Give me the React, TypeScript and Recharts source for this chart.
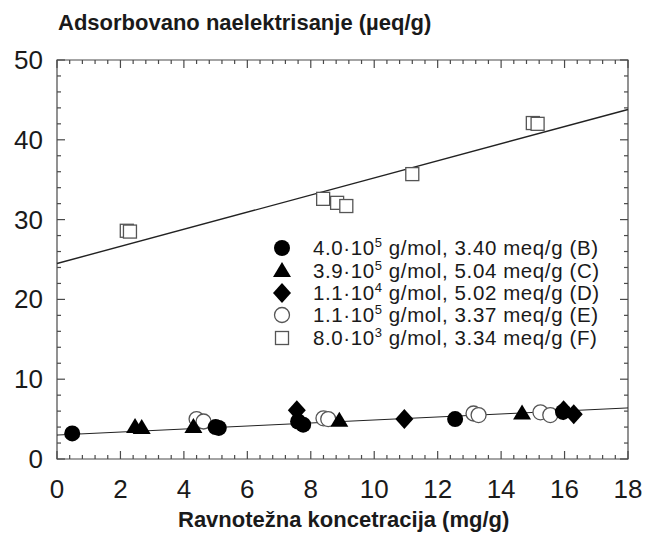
import React from 'react'
import { ComposedChart, Line, Scatter, XAxis, YAxis, ReferenceArea } from 'recharts'

// Adsorbed charge vs equilibrium concentration
const seriesB = [
  { x: 0.48, y: 3.2 }, { x: 5.0, y: 4.0 }, { x: 5.1, y: 3.9 }, { x: 7.6, y: 4.7 },
  { x: 7.76, y: 4.3 }, { x: 12.55, y: 5.0 }, { x: 15.95, y: 5.9 },
]
const seriesC = [
  { x: 2.46, y: 4.0 }, { x: 2.67, y: 3.9 }, { x: 4.3, y: 4.0 }, { x: 8.9, y: 4.8 }, { x: 14.66, y: 5.7 },
]
const seriesD = [
  { x: 7.56, y: 6.1 }, { x: 10.95, y: 5.0 }, { x: 15.97, y: 6.1 }, { x: 16.29, y: 5.6 },
]
const seriesE = [
  { x: 4.4, y: 5.0 }, { x: 4.62, y: 4.7 }, { x: 8.4, y: 5.1 }, { x: 8.55, y: 5.0 },
  { x: 13.13, y: 5.7 }, { x: 13.29, y: 5.5 }, { x: 15.24, y: 5.85 }, { x: 15.55, y: 5.5 },
]
const seriesF = [
  { x: 2.2, y: 28.6 }, { x: 2.3, y: 28.5 }, { x: 8.39, y: 32.6 }, { x: 8.83, y: 32.1 },
  { x: 9.12, y: 31.7 }, { x: 11.2, y: 35.7 }, { x: 15.0, y: 42.1 }, { x: 15.15, y: 42.0 },
]
// fitted lines (end points)
const fitLow = [{ x: 0, y: 3.0 }, { x: 18, y: 6.4 }]
const fitHigh = [{ x: 0, y: 24.5 }, { x: 18, y: 43.8 }]

const xMajor = [0, 2, 4, 6, 8, 10, 12, 14, 16, 18]
const yMajor = [0, 10, 20, 30, 40, 50]
const xMinor = Array.from({ length: 46 }, (_, i) => +(i * 0.4).toFixed(1))
const yMinor = Array.from({ length: 26 }, (_, i) => i * 2)

const legendItems = [
  { key: 'B', mw: '4.0·10', exp: '5', rest: ' g/mol, 3.40 meq/g (B)' },
  { key: 'C', mw: '3.9·10', exp: '5', rest: ' g/mol, 5.04 meq/g (C)' },
  { key: 'D', mw: '1.1·10', exp: '4', rest: ' g/mol, 5.02 meq/g (D)' },
  { key: 'E', mw: '1.1·10', exp: '5', rest: ' g/mol, 3.37 meq/g (E)' },
  { key: 'F', mw: '8.0·10', exp: '3', rest: ' g/mol, 3.34 meq/g (F)' },
]

const FONT = '"Liberation Sans", Arial, sans-serif'
const INK = '#1a1a1a'
const FRAME = '#4a4a4a'
const X_MIN = 0, X_MAX = 18, Y_MIN = 0, Y_MAX = 50

// tick positions on the four sides of the frame
const bottomTicks = xMinor.map((v) => ({ x: v, y: Y_MIN, major: xMajor.includes(v) }))
const topTicks = xMinor.map((v) => ({ x: v, y: Y_MAX, major: xMajor.includes(v) }))
const leftTicks = yMinor.map((v) => ({ x: X_MIN, y: v, major: yMajor.includes(v) }))
const rightTicks = yMinor.map((v) => ({ x: X_MAX, y: v, major: yMajor.includes(v) }))

const Marker = ({ kind, cx, cy }: { kind: string; cx: number; cy: number }) => {
  switch (kind) {
    case 'B':
      return <circle cx={cx} cy={cy} r={8} fill="#000" />
    case 'C':
      return <polygon points={`${cx},${cy - 9} ${cx + 9},${cy + 6} ${cx - 9},${cy + 6}`} fill="#000" />
    case 'D':
      return <polygon points={`${cx},${cy - 10} ${cx + 9},${cy} ${cx},${cy + 10} ${cx - 9},${cy}`} fill="#000" />
    case 'E':
      return <circle cx={cx} cy={cy} r={7.5} fill="#fff" stroke="#555" strokeWidth={1.3} />
    default:
      return <rect x={cx - 6.5} y={cy - 6.5} width={13} height={13} fill="#fff" stroke="#555" strokeWidth={1.3} />
  }
}

const shape = (kind: string) => (props: any) => <Marker kind={kind} cx={props.cx} cy={props.cy} />

// inward tick drawn as a thin filled rect; dx/dy gives direction into the plot
const tickShape = (dx: number, dy: number) => (props: any) => {
  const major = props.major ?? props.payload?.major
  const len = major ? 8 : 4
  const t = 1.2
  const cx = props.cx
  const cy = props.cy
  const w = dx !== 0 ? len : t
  const h = dy !== 0 ? len : t
  const x = dx < 0 ? cx - len : dx > 0 ? cx : cx - t / 2
  const y = dy < 0 ? cy - len : dy > 0 ? cy : cy - t / 2
  return <rect x={x} y={y} width={w} height={h} fill={FRAME} />
}

const BottomLabel = ({ x, y, payload }: any) => (
  <text x={x} y={y + 30} textAnchor="middle" dominantBaseline="central" fontSize={26} fill={INK} fontFamily={FONT}>
    {payload.value}
  </text>
)

const LeftLabel = ({ x, y, payload }: any) => (
  <text x={x - 14} y={y} textAnchor="end" dominantBaseline="central" fontSize={26} fill={INK} fontFamily={FONT}>
    {payload.value}
  </text>
)

const LegendBox = () => (
  <div style={{ position: 'absolute', left: 270, top: 237, fontFamily: FONT, fontSize: 20.5, letterSpacing: 0.6, color: INK }}>
    {legendItems.map((it) => (
      <div key={it.key} style={{ display: 'flex', alignItems: 'center', height: 22.4 }}>
        <svg width={24} height={22} style={{ marginRight: 19 }}>
          <Marker kind={it.key} cx={12} cy={11} />
        </svg>
        <span style={{ whiteSpace: 'nowrap', lineHeight: '20px' }}>
          {it.mw}
          <sup style={{ fontSize: 13, lineHeight: 0 }}>{it.exp}</sup>
          {it.rest}
        </span>
      </div>
    ))}
  </div>
)

export default function App() {
  return (
    <div style={{ position: 'absolute', left: 0, top: 0, width: 646, height: 534, background: '#fff' }}>
      <ComposedChart width={646} height={534} margin={{ top: 60, right: 18, bottom: 0, left: 0 }}>
        <XAxis
          dataKey="x" type="number" domain={[X_MIN, X_MAX]} ticks={xMajor} interval={0}
          height={75} tickSize={0} tickMargin={0} tickLine={false} axisLine={false}
          tick={(p: any) => <BottomLabel {...p} />}
        />
        <YAxis
          dataKey="y" type="number" domain={[Y_MIN, Y_MAX]} ticks={yMajor} interval={0}
          width={57} tickSize={0} tickMargin={0} tickLine={false} axisLine={false}
          tick={(p: any) => <LeftLabel {...p} />}
        />
        <ReferenceArea x1={X_MIN} x2={X_MAX} y1={Y_MIN} y2={Y_MAX} fill="none" stroke={FRAME} strokeWidth={1.2} ifOverflow="visible" />
        <Scatter name="tb" data={bottomTicks} dataKey="y" shape={tickShape(0, -1)} isAnimationActive={false} />
        <Scatter name="tt" data={topTicks} dataKey="y" shape={tickShape(0, 1)} isAnimationActive={false} />
        <Scatter name="tl" data={leftTicks} dataKey="y" shape={tickShape(1, 0)} isAnimationActive={false} />
        <Scatter name="tr" data={rightTicks} dataKey="y" shape={tickShape(-1, 0)} isAnimationActive={false} />
        <Line data={fitLow} dataKey="y" stroke="#222" strokeWidth={1} dot={false} isAnimationActive={false} />
        <Line data={fitHigh} dataKey="y" stroke="#222" strokeWidth={1.4} dot={false} isAnimationActive={false} />
        <Scatter data={seriesE} dataKey="y" shape={shape('E')} isAnimationActive={false} />
        <Scatter data={seriesF} dataKey="y" shape={shape('F')} isAnimationActive={false} />
        <Scatter data={seriesC} dataKey="y" shape={shape('C')} isAnimationActive={false} />
        <Scatter data={seriesD} dataKey="y" shape={shape('D')} isAnimationActive={false} />
        <Scatter data={seriesB} dataKey="y" shape={shape('B')} isAnimationActive={false} />
      </ComposedChart>
      <div
        style={{
          position: 'absolute', left: 58, top: 10, fontFamily: FONT, fontWeight: 'bold',
          fontSize: 22, color: INK, whiteSpace: 'nowrap',
        }}
      >
        Adsorbovano naelektrisanje (µeq/g)
      </div>
      <div
        style={{
          position: 'absolute', left: 178, top: 507, fontFamily: FONT,
          fontWeight: 'bold', fontSize: 22, color: INK, whiteSpace: 'nowrap',
        }}
      >
        Ravnotežna koncetracija (mg/g)
      </div>
      <LegendBox />
    </div>
  )
}
